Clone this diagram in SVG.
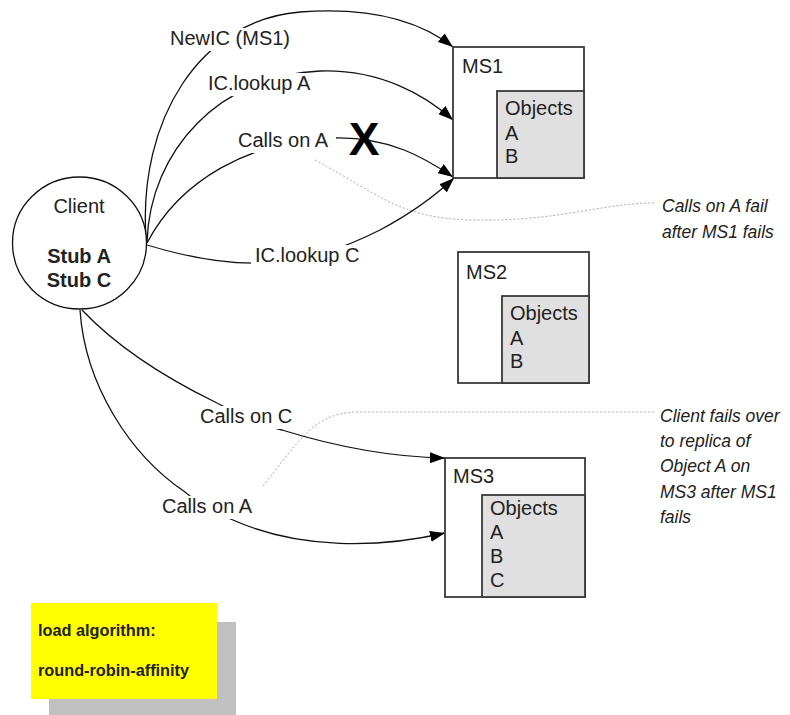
<svg xmlns="http://www.w3.org/2000/svg" width="790" height="715" viewBox="0 0 790 715">
<defs>
<style>
text{font-family:"Liberation Sans",Arial,sans-serif;fill:#222}
.lbl{font-size:20px}
.bold{font-weight:bold}
.note{font-size:17.5px;font-style:italic}
.box{fill:#fff;stroke:#3a3a3a;stroke-width:1.8}
.inner{fill:#e0e0e0;stroke:#3a3a3a;stroke-width:1.8}
.conn{fill:none;stroke:#111;stroke-width:1.3}
.dot{fill:none;stroke:#aaa;stroke-width:1;stroke-dasharray:2,2}
.bg{fill:#fff}
.leg{font-size:16.3px;font-weight:bold}
</style>
<marker id="arr" markerUnits="userSpaceOnUse" markerWidth="15" markerHeight="11" refX="15" refY="5.5" orient="auto">
<path d="M0,0 L15,5.5 L0,11 z" fill="#000"/>
</marker>
</defs>
<rect width="790" height="715" fill="#fff"/>

<g id="connectors">
<path class="dot" d="M315,160 C 380,195 400,218 470,220 C 560,222 600,203 655,203"/>
<path class="dot" d="M263,486 C 280,465 290,450 302,438 C 318,420 335,412 360,412 L 655,412"/>
<path class="conn" marker-end="url(#arr)" d="M146,238 C 138,120 200,20 300,12 C 380,6 425,25 453,47"/>
<path class="conn" marker-end="url(#arr)" d="M147,242 C 150,150 220,75 320,71 C 380,69 425,95 453,120"/>
<path class="conn" marker-end="url(#arr)" d="M147,243 C 180,180 250,140 335,138 C 390,137 425,158 453,177"/>
<path class="conn" marker-end="url(#arr)" d="M147,245 C 190,258 225,264 260,263 C 310,262 350,245 380,230 C 410,214 435,196 454,178"/>
<path class="conn" marker-end="url(#arr)" d="M82,310 C 120,350 170,380 215,402 C 240,415 260,425 282,430 C 340,448 390,457 445,458"/>
<path class="conn" marker-end="url(#arr)" d="M80,310 C 85,385 130,455 185,492 C 200,505 215,514 233,520 C 300,550 380,548 445,533"/>
</g>

<g id="labels">
<rect class="bg" x="166" y="28" width="131" height="23"/>
<text class="lbl" x="170" y="45">NewIC (MS1)</text>
<rect class="bg" x="204" y="73" width="114" height="23"/>
<text class="lbl" x="208" y="90">IC.lookup A</text>
<rect class="bg" x="234" y="130" width="102" height="23"/>
<text class="lbl" x="238" y="147">Calls on A</text>
<text class="lbl bold" x="364" y="155" text-anchor="middle" style="font-size:46px;fill:#000">X</text>
<rect class="bg" x="251" y="245" width="115" height="23"/>
<text class="lbl" x="255" y="262">IC.lookup C</text>
<rect class="bg" x="196" y="406" width="100" height="23"/>
<text class="lbl" x="200" y="423">Calls on C</text>
<rect class="bg" x="158" y="496" width="101" height="23"/>
<text class="lbl" x="162" y="513">Calls on A</text>
</g>

<g id="client">
<ellipse cx="79.5" cy="243" rx="67" ry="66" fill="#fff" stroke="#111" stroke-width="1.3"/>
<text class="lbl" x="79" y="213" text-anchor="middle">Client</text>
<text class="lbl bold" x="79" y="263" text-anchor="middle">Stub A</text>
<text class="lbl bold" x="79" y="287" text-anchor="middle">Stub C</text>
</g>

<g id="ms1">
<rect class="box" x="453" y="47" width="131" height="131"/>
<rect class="inner" x="497" y="91" width="87" height="87"/>
<text class="lbl" x="462" y="73">MS1</text>
<text class="lbl" x="505" y="115">Objects</text>
<text class="lbl" x="505" y="140">A</text>
<text class="lbl" x="505" y="163">B</text>
</g>

<g id="ms2">
<rect class="box" x="458" y="252" width="131" height="131"/>
<rect class="inner" x="502" y="296" width="87" height="87"/>
<text class="lbl" x="466" y="279">MS2</text>
<text class="lbl" x="510" y="320">Objects</text>
<text class="lbl" x="510" y="345">A</text>
<text class="lbl" x="510" y="368">B</text>
</g>

<g id="ms3">
<rect class="box" x="445" y="458" width="140" height="139"/>
<rect class="inner" x="482" y="495" width="103" height="102"/>
<text class="lbl" x="453" y="483">MS3</text>
<text class="lbl" x="490" y="515">Objects</text>
<text class="lbl" x="490" y="539">A</text>
<text class="lbl" x="490" y="563">B</text>
<text class="lbl" x="490" y="587">C</text>
</g>

<g id="note1">
<text class="note" x="662" y="212">Calls on A fail</text>
<text class="note" x="662" y="238">after MS1 fails</text>
</g>

<g id="note2">
<text class="note" x="660" y="422">Client fails over</text>
<text class="note" x="660" y="447">to replica of</text>
<text class="note" x="660" y="472">Object A on</text>
<text class="note" x="660" y="498">MS3 after MS1</text>
<text class="note" x="660" y="523">fails</text>
</g>

<g id="legend">
<rect x="49" y="622" width="187" height="95" fill="#c0c0c0"/>
<rect x="31" y="603" width="186" height="96" fill="#ffff00"/>
<text class="leg" x="38" y="636">load algorithm:</text>
<text class="leg" x="38" y="676">round-robin-affinity</text>
</g>
</svg>
